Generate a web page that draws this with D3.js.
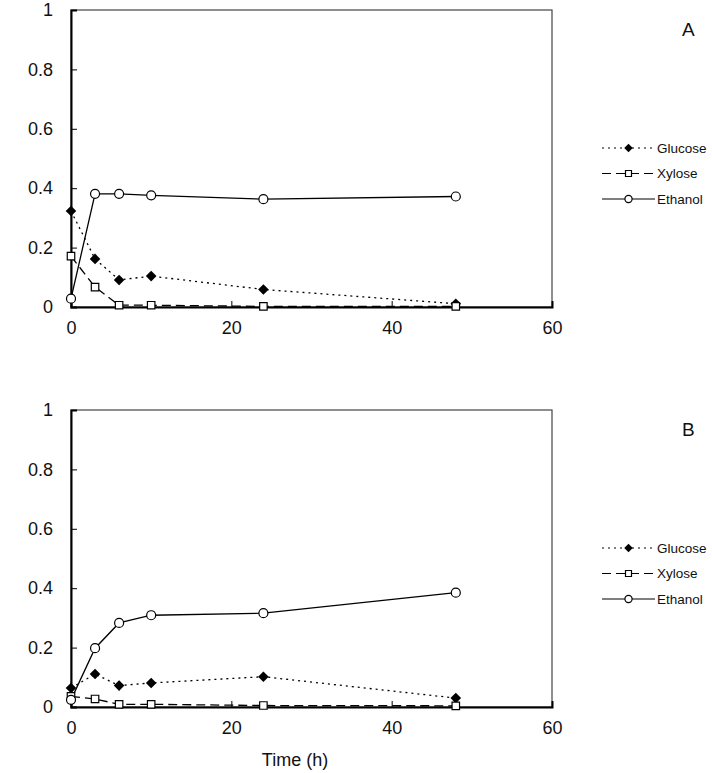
<!DOCTYPE html>
<html>
<head>
<meta charset="utf-8">
<script src="https://cdn.jsdelivr.net/npm/d3@7"></script>
<style>
    body { margin: 0; background: #fff; }
    svg { display: block; font-family: "Liberation Sans", Arial, sans-serif; }
</style>
</head>
<body>
<div id="chart"></div>
<script>
// sampling times (h)
const times = [0, 3, 6, 10, 24, 48];

// panel A
const glucoseA = [0.323, 0.162, 0.091, 0.104, 0.059, 0.011];
const xyloseA = [0.171, 0.067, 0.006, 0.006, 0.002, 0.002];
const ethanolA = [0.028, 0.381, 0.381, 0.376, 0.363, 0.372];

// panel B
const glucoseB = [0.064, 0.111, 0.072, 0.081, 0.102, 0.030];
const xyloseB = [0.036, 0.027, 0.009, 0.009, 0.005, 0.004];
const ethanolB = [0.024, 0.198, 0.283, 0.309, 0.316, 0.385];

const seriesNames = ["Glucose", "Xylose", "Ethanol"];
const panelLetters = ["A", "B"];
const xTicks = [0, 20, 40, 60];
const yTicks = [0, 0.2, 0.4, 0.6, 0.8, 1];
const xTitle = "Time (h)";

const width = 712;
const height = 773;
const left = 71;
const right = 552;
const panelTops = [10, 410];
const panelHeight = 297;

const styles = {
    Glucose: { dash: "2,4", marker: "diamond" },
    Xylose: { dash: "9,5", marker: "square" },
    Ethanol: { dash: null, marker: "circle" },
};

const svg = d3.select("#chart")
    .append("svg")
    .attr("width", width)
    .attr("height", height);

const x = d3.scaleLinear().domain([0, 60]).range([left, right]);

const line = (y) => d3.line()
    .x(d => x(d[0]))
    .y(d => y(d[1]));

// k scales the marker (legend markers are a bit smaller)
drawMarker = (g, kind, cx, cy, k = 1) => {
    if (kind == "diamond") {
        g.append("path")
            .attr("d", d3.symbol(d3.symbolSquare, 56 * k * k)())
            .attr("transform", `translate(${cx},${cy}) rotate(45)`)
            .attr("fill", "#000");
    } else if (kind == "square") {
        g.append("path")
            .attr("d", d3.symbol(d3.symbolSquare, 56 * k * k)())
            .attr("transform", `translate(${cx},${cy})`)
            .attr("fill", "#fff")
            .attr("stroke", "#000")
            .attr("stroke-width", 1.2);
    } else {
        g.append("circle")
            .attr("cx", cx)
            .attr("cy", cy)
            .attr("r", 4.5 * k)
            .attr("fill", "#fff")
            .attr("stroke", "#000")
            .attr("stroke-width", 1.2);
    }
}

drawPanel = (top, letter, values, showTitle) => {
    const bottom = top + panelHeight;
    const y = d3.scaleLinear().domain([0, 1]).range([bottom, top]);
    const g = svg.append("g");

    // frame
    g.append("rect")
        .attr("x", left)
        .attr("y", top)
        .attr("width", right - left)
        .attr("height", bottom - top)
        .attr("fill", "none")
        .attr("stroke", "#444")
        .attr("stroke-width", 1.2);

    // axes, ticks inside
    const gx = g.append("g")
        .attr("transform", `translate(0,${bottom})`)
        .call(d3.axisBottom(x).tickValues(xTicks).tickSize(-6).tickPadding(14).tickFormat(d3.format("d")));
    gx.select(".domain").attr("stroke", "#000").attr("stroke-width", 2);
    gx.selectAll("text").attr("font-size", 18).attr("fill", "#111").attr("font-family", "Liberation Sans, Arial, sans-serif");

    const gy = g.append("g")
        .attr("transform", `translate(${left},0)`)
        .call(d3.axisLeft(y).tickValues(yTicks).tickSize(-6).tickPadding(18).tickFormat(d => d3.format("")(d)));
    gy.select(".domain").attr("stroke", "#000").attr("stroke-width", 2);
    gy.selectAll("text").attr("font-size", 18).attr("fill", "#111").attr("font-family", "Liberation Sans, Arial, sans-serif");

    // series
    seriesNames.forEach((name, i) => {
        const pts = times.map((t, j) => [t, values[i][j]]);
        g.append("path")
            .attr("d", line(y)(pts))
            .attr("fill", "none")
            .attr("stroke", "#000")
            .attr("stroke-width", 1.3)
            .attr("stroke-dasharray", styles[name].dash);
    });
    seriesNames.forEach((name, i) => {
        times.forEach((t, j) => drawMarker(g, styles[name].marker, x(t), y(values[i][j])));
    });

    // legend
    const legendTop = top + 138;
    seriesNames.forEach((name, i) => {
        const ly = legendTop + i * 25.5;
        g.append("line")
            .attr("x1", 602).attr("x2", 655)
            .attr("y1", ly).attr("y2", ly)
            .attr("stroke", "#000")
            .attr("stroke-width", 1.2)
            .attr("stroke-dasharray", styles[name].dash);
        drawMarker(g, styles[name].marker, 628.5, ly, 0.8);
        g.append("text")
            .attr("x", 657)
            .attr("y", ly + 4.5)
            .attr("font-size", 13.5)
            .attr("fill", "#111")
            .text(name);
    });

    g.append("text")
        .attr("x", 682)
        .attr("y", top + 26)
        .attr("font-size", 19)
        .attr("fill", "#111")
        .text(letter);

    if (showTitle) {
        g.append("text")
            .attr("x", 295)
            .attr("y", bottom + 59)
            .attr("text-anchor", "middle")
            .attr("font-size", 18)
            .attr("fill", "#111")
            .text(xTitle);
    }
}

drawPanel(panelTops[0], panelLetters[0], [glucoseA, xyloseA, ethanolA], false);
drawPanel(panelTops[1], panelLetters[1], [glucoseB, xyloseB, ethanolB], true);
</script>
</body>
</html>
